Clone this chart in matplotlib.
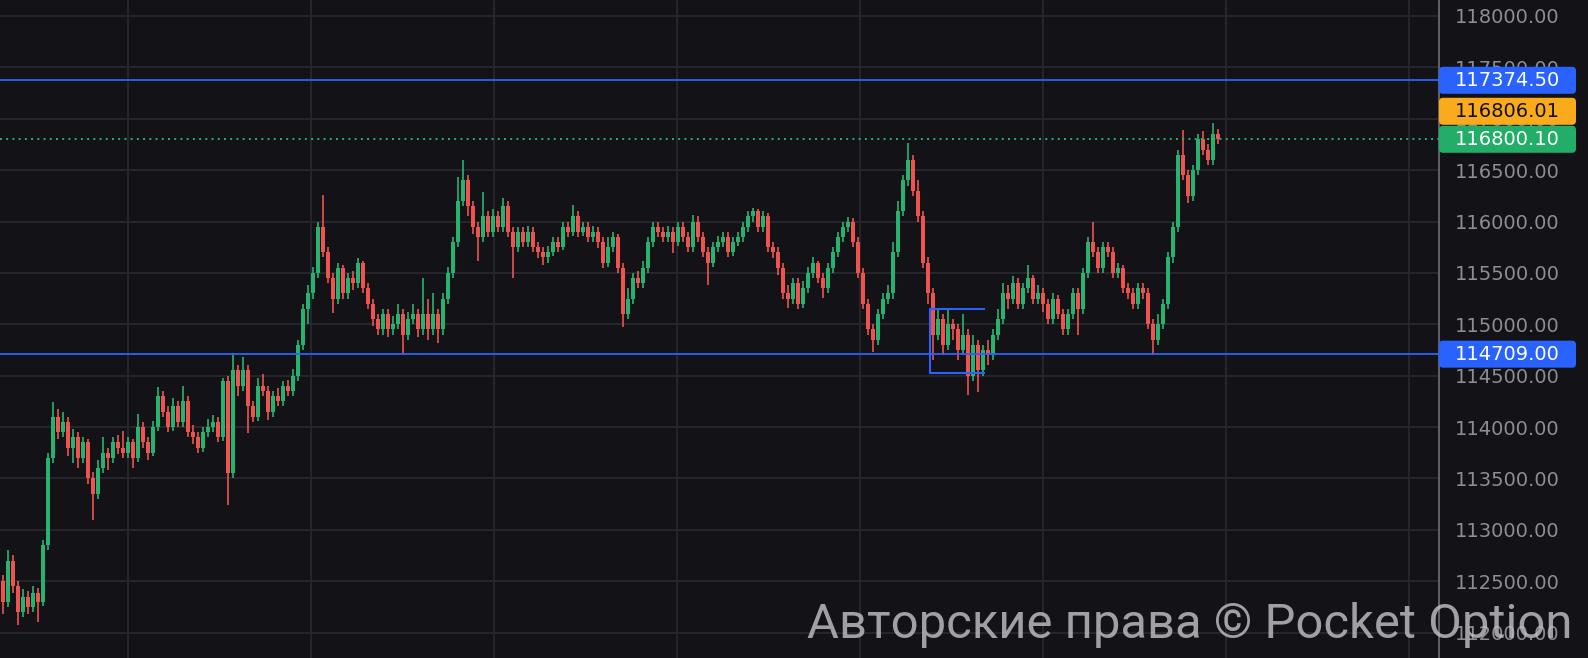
import matplotlib
matplotlib.use('Agg')
import matplotlib.pyplot as plt
from matplotlib.patches import FancyBboxPatch
from matplotlib.transforms import IdentityTransform

# ---------------- data ----------------
opens = [112500, 112300, 112700, 112450, 112200, 112350, 112250, 112380, 112300, 112850,
         113700, 114100, 113950, 114050, 113800, 113900, 113700, 113850, 113500, 113350,
         113600, 113750, 113700, 113850, 113800, 113750, 113850, 113700, 114000, 113850,
         113750, 114000, 114300, 114150, 114000, 114200, 114050, 114250, 113950, 113900,
         113800, 113950, 114000, 114050, 113900, 114450, 113550, 114550, 114400, 114550,
         114200, 114100, 114400, 114350, 114150, 114300, 114250, 114400, 114350, 114500,
         114800, 115150, 115300, 115500, 115950, 115700, 115450, 115250, 115550, 115300,
         115450, 115400, 115600, 115350, 115200, 115050, 114950, 115100, 114950, 115000,
         115100, 114900, 115050, 115100, 114950, 115100, 114950, 115100, 114950, 115250,
         115500, 115800, 116200, 116400, 116150, 115950, 115850, 116050, 115900, 116050,
         115950, 116150, 115900, 115750, 115900, 115800, 115900, 115750, 115700, 115650,
         115700, 115800, 115750, 115950, 115900, 116050, 115900, 115950, 115850, 115900,
         115800, 115600, 115750, 115850, 115550, 115100, 115250, 115450, 115400, 115550,
         115800, 115950, 115900, 115850, 115900, 115800, 115950, 115850, 115750, 116000,
         115850, 115700, 115600, 115750, 115800, 115850, 115700, 115800, 115850, 115950,
         116050, 116100, 115950, 116050, 115750, 115700, 115550, 115300, 115250, 115400,
         115200, 115350, 115500, 115600, 115450, 115350, 115550, 115700, 115850, 115950,
         116000, 115800, 115500, 115200, 114950, 114850, 115100, 115250, 115300, 115700,
         116100, 116400, 116600, 116300, 116050, 115600, 115300, 114900, 115050, 114800,
         115000, 114950, 114750, 114900, 114500, 114800, 114550, 114750, 114700, 114900,
         115050, 115300, 115250, 115400, 115200, 115350, 115450, 115250, 115300, 115200,
         115050, 115250, 115100, 114950, 115100, 115300, 115150, 115500, 115800, 115700,
         115550, 115750, 115700, 115500, 115550, 115350, 115300, 115200, 115350, 115300,
         115000, 114850, 115000, 115200, 115650, 115950, 116650, 116450, 116250, 116500,
         116800, 116700, 116600, 116850]

closes = [112300, 112700, 112450, 112200, 112350, 112250, 112380, 112300, 112850, 113700,
          114100, 113950, 114050, 113800, 113900, 113700, 113850, 113500, 113350, 113600,
          113750, 113700, 113850, 113800, 113750, 113850, 113700, 114000, 113850, 113750,
          114000, 114300, 114150, 114000, 114200, 114050, 114250, 113950, 113900, 113800,
          113950, 114000, 114050, 113900, 114450, 113550, 114550, 114400, 114550, 114200,
          114100, 114400, 114350, 114150, 114300, 114250, 114400, 114350, 114500, 114800,
          115150, 115300, 115500, 115950, 115700, 115450, 115250, 115550, 115300, 115450,
          115400, 115600, 115350, 115200, 115050, 114950, 115100, 114950, 115000, 115100,
          114900, 115050, 115100, 114950, 115100, 114950, 115100, 114950, 115250, 115500,
          115800, 116200, 116400, 116150, 115950, 115850, 116050, 115900, 116050, 115950,
          116150, 115900, 115750, 115900, 115800, 115900, 115750, 115700, 115650, 115700,
          115800, 115750, 115950, 115900, 116050, 115900, 115950, 115850, 115900, 115800,
          115600, 115750, 115850, 115550, 115100, 115250, 115450, 115400, 115550, 115800,
          115950, 115900, 115850, 115900, 115800, 115950, 115850, 115750, 116000, 115850,
          115700, 115600, 115750, 115800, 115850, 115700, 115800, 115850, 115950, 116050,
          116100, 115950, 116050, 115750, 115700, 115550, 115300, 115250, 115400, 115200,
          115350, 115500, 115600, 115450, 115350, 115550, 115700, 115850, 115950, 116000,
          115800, 115500, 115200, 114950, 114850, 115100, 115250, 115300, 115700, 116100,
          116400, 116600, 116300, 116050, 115600, 115300, 114900, 115050, 114800, 115000,
          114950, 114750, 114900, 114500, 114800, 114550, 114750, 114700, 114900, 115050,
          115300, 115250, 115400, 115200, 115350, 115450, 115250, 115300, 115200, 115050,
          115250, 115100, 114950, 115100, 115300, 115150, 115500, 115800, 115700, 115550,
          115750, 115700, 115500, 115550, 115350, 115300, 115200, 115350, 115300, 115000,
          114850, 115000, 115200, 115650, 115950, 116650, 116450, 116250, 116500, 116800,
          116700, 116600, 116850, 116800.1]

highs = [112560, 112800, 112750, 112500, 112420, 112400, 112450, 112430, 112900, 113750,
         114240, 114180, 114150, 114100, 113980, 113950, 113900, 113880, 113560, 113680,
         113900, 113800, 113900, 113920, 113960, 113900, 113880, 114130, 114050, 113900,
         114060, 114390, 114350, 114200, 114280, 114250, 114400, 114300, 114020, 113950,
         114000, 114080, 114120, 114100, 114480, 114500, 114720, 114600, 114680, 114600,
         114250, 114480, 114520, 114400, 114350, 114380, 114450, 114460, 114560, 114850,
         115200, 115380, 115560, 116000, 116260, 115750, 115500, 115600, 115580, 115500,
         115520, 115640, 115620, 115400, 115250, 115100, 115150, 115150, 115080, 115200,
         115150, 115120, 115200, 115150, 115450, 115250, 115300, 115150, 115300, 115560,
         115850, 116430, 116600, 116450, 116200, 116000, 116290, 116100, 116120, 116100,
         116230, 116200, 115950, 115950, 115950, 115960, 115950, 115800, 115750, 115760,
         115850, 115850, 116000, 116000, 116160, 116100, 116000, 116000, 115960, 115950,
         115850, 115850, 115900, 115880, 115600, 115350, 115500, 115520, 115620, 115850,
         116000, 116000, 115950, 115960, 115950, 116000, 116000, 115900, 116060, 116050,
         115900, 115750, 115800, 115860, 115900, 115900, 115850, 115900, 116000, 116100,
         116130, 116120, 116100, 116080, 115800, 115750, 115600, 115380, 115450, 115450,
         115420, 115560, 115650, 115620, 115500, 115600, 115750, 115900, 116000, 116045,
         116030, 115850, 115550, 115250, 115000, 115150, 115300, 115380, 115800, 116200,
         116450, 116760, 116650, 116400, 116100, 115650, 115350, 115150, 115100, 115140,
         115050, 115000, 115100, 114950, 114900, 114850, 114800, 114850, 114950, 115150,
         115400, 115380, 115470, 115450, 115400, 115580, 115480, 115380, 115350, 115250,
         115300, 115280, 115150, 115150, 115350, 115350, 115550, 115850, 116000, 115750,
         115800, 115800, 115750, 115600, 115580, 115400, 115350, 115400, 115400, 115350,
         115050, 115100, 115250, 115700, 116000, 116700, 116890, 116500, 116550, 116850,
         116880, 116750, 116960, 116900]

lows = [112180, 112250, 112380, 112075, 112150, 112180, 112200, 112100, 112260, 112800,
        113650, 113880, 113900, 113720, 113650, 113600, 113650, 113450, 113095, 113300,
        113550, 113580, 113650, 113740, 113700, 113700, 113600, 113660, 113800, 113680,
        113720, 113960, 114100, 113950, 113960, 114000, 114000, 113900, 113830, 113750,
        113760, 113900, 113950, 113850, 113860, 113240, 113500, 114300, 114350, 113940,
        114050, 114060, 114300, 114070, 114100, 114200, 114200, 114300, 114300, 114450,
        114750, 115000, 115250, 115450, 115650, 115400, 115110, 115200, 115250, 115250,
        115330, 115350, 115300, 115150, 114980, 114900, 114900, 114880, 114900, 114950,
        114700, 114850, 115000, 114880, 114900, 114850, 114900, 114820, 114900, 115200,
        115450, 115750, 116150, 116050, 115880, 115620, 115800, 115850, 115850, 115900,
        115900, 115850, 115450, 115700, 115750, 115750, 115700, 115640, 115580, 115600,
        115660, 115700, 115720, 115850, 115860, 115850, 115860, 115800, 115800, 115740,
        115550, 115560, 115700, 115500, 114970, 115050, 115200, 115350, 115350, 115500,
        115750, 115850, 115800, 115800, 115690, 115760, 115800, 115700, 115700, 115800,
        115650, 115380, 115560, 115700, 115750, 115650, 115660, 115760, 115800, 115900,
        116000, 115900, 115900, 115700, 115640, 115480, 115250, 115160, 115200, 115150,
        115160, 115300, 115450, 115400, 115260, 115300, 115500, 115650, 115800, 115900,
        115750, 115450, 115150, 114900, 114730, 114800, 115050, 115200, 115250, 115650,
        116050, 116350, 116250, 116000, 115550, 115200, 114650, 114850, 114700, 114750,
        114850, 114650, 114700, 114310, 114450, 114340, 114500, 114600, 114650, 114850,
        115000, 115150, 115200, 115150, 115150, 115300, 115200, 115200, 115120, 115000,
        115000, 115050, 114900, 114900, 115050, 114900, 115100, 115450, 115650, 115500,
        115500, 115650, 115450, 115450, 115300, 115250, 115150, 115150, 115250, 114950,
        114700, 114800, 114950, 115150, 115600, 115900, 116400, 116180, 116200, 116450,
        116650, 116550, 116550, 116750]

y_ticks = [112000, 112500, 113000, 113500, 114000, 114500, 115000, 115500,
           116000, 116500, 117000, 117500, 118000]

resistance = 117374.50
support = 114709.00
current_price = 116800.10
ask_price = 116806.01
range_box_top = 115150
range_box_bottom = 114530
range_box_left = 185.5
range_box_right = 196.3

watermark = "Авторские права © Pocket Option"

# ---------------- style ----------------
W, H = 1588, 658
BG = '#121217'
GRID = '#28282e'
UP = '#27b36f'
DOWN = '#ef5350'
BLUE = '#2962ff'
LABEL = '#8d8d94'
PX = 5.0           # pixels per candle
AX_RIGHT = 1439
LABEL_FONT = ['DejaVu Sans']
LABEL_SIZE = 14.0

fig = plt.figure(figsize=(W / 100, H / 100), dpi=100, facecolor=BG)
ax = fig.add_axes([0, 0, AX_RIGHT / W, 1])
ax.set_facecolor(BG)
ax.set_xlim(-0.5, AX_RIGHT / PX - 0.5)
ax.set_ylim(111752, 118155.7)

# grid
grid_px = [128.3 + 182.9 * k for k in range(8)]
ax.set_xticks([p / PX - 0.5 for p in grid_px])
ax.set_yticks(y_ticks)
ax.grid(True, color=GRID, linewidth=1.3)
ax.set_axisbelow(True)
ax.tick_params(axis='x', length=0, labelbottom=False)
ax.yaxis.tick_right()
ax.set_yticklabels([f"{v:.2f}" for v in y_ticks])
ax.tick_params(axis='y', length=0, pad=11.5, labelcolor=LABEL, labelsize=LABEL_SIZE)
for lab in ax.get_yticklabels():
    lab.set_fontfamily(LABEL_FONT)
for s in ['top', 'bottom', 'left']:
    ax.spines[s].set_visible(False)
ax.spines['right'].set_color('#707076')
ax.spines['right'].set_linewidth(1.2)

# candles
xs = list(range(len(closes)))
cols = [UP if c >= o else DOWN for o, c in zip(opens, closes)]
ax.vlines(xs, lows, highs, colors=cols, linewidth=1.2, zorder=3)
bottoms = [min(o, c) for o, c in zip(opens, closes)]
heights = [max(abs(c - o), 12) for o, c in zip(opens, closes)]
ax.bar(xs, heights, bottom=bottoms, width=0.8, color=cols, linewidth=0, zorder=3)

# horizontal levels
ax.axhline(resistance, color=BLUE, linewidth=1.3, zorder=4)
ax.axhline(support, color=BLUE, linewidth=1.3, zorder=4)
ax.axhline(current_price, color=UP, linewidth=1.4, linestyle=(0, (1, 2.2)), zorder=4)

# range bracket
ax.plot([range_box_right, range_box_left, range_box_left, range_box_right],
        [range_box_top, range_box_top, range_box_bottom, range_box_bottom],
        color=BLUE, linewidth=1.5, zorder=4)

# price tags on the axis
def ypix(price):
    return ax.transData.transform((0, price))[1]

def tag(yc, text, fc, tc):
    h = 27
    p = FancyBboxPatch((AX_RIGHT, yc - h / 2), 1576 - AX_RIGHT, h,
                       boxstyle="round,pad=0,rounding_size=4",
                       transform=IdentityTransform(), facecolor=fc,
                       edgecolor='none', zorder=5)
    fig.add_artist(p)
    fig.text(1455 / W, yc / H, text, ha='left', va='center', color=tc,
             fontsize=LABEL_SIZE, family=LABEL_FONT, zorder=6)

fig.canvas.draw()
y_cur = ypix(current_price)
tag(ypix(resistance), f"{resistance:.2f}", BLUE, 'white')
tag(y_cur + 28, f"{ask_price:.2f}", '#f9ab1c', '#111111')
tag(y_cur, f"{current_price:.2f}", '#22ad68', 'white')
tag(ypix(support), f"{support:.2f}", BLUE, 'white')

# watermark, sized to span the same width as in the reference
wm = fig.text(807 / W, 33 / H, watermark, ha='left', va='center', fontsize=38,
              color='#c4c4c8', alpha=0.8, family=['Roboto', 'DejaVu Sans'],
              zorder=10)
r = fig.canvas.get_renderer()
wm_w = wm.get_window_extent(renderer=r).width
wm.set_fontsize(38 * 765 / wm_w)

fig.savefig('out.png', dpi=100, facecolor=BG)
